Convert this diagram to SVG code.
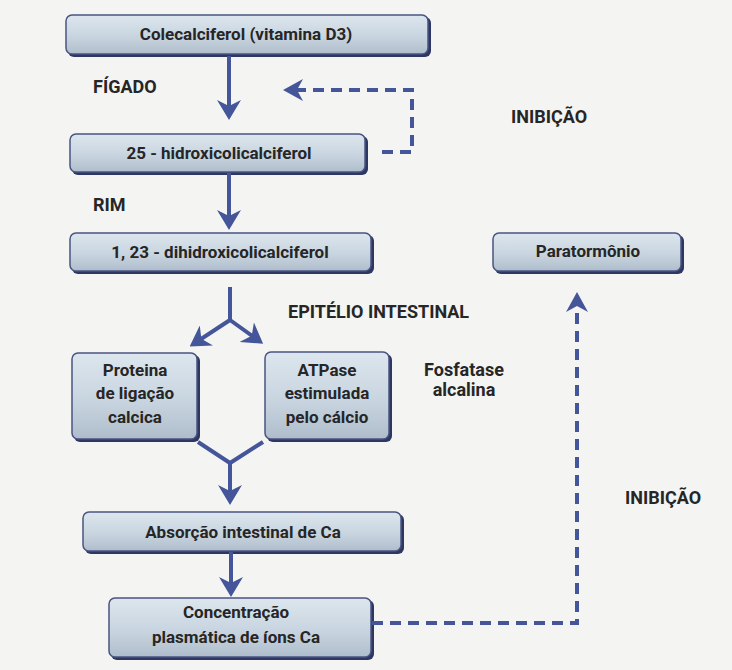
<svg xmlns="http://www.w3.org/2000/svg" width="732" height="670" viewBox="0 0 732 670">
<defs>
<linearGradient id="boxg" x1="0" y1="0" x2="0" y2="1">
<stop offset="0" stop-color="#dde6ee"/>
<stop offset="0.6" stop-color="#c6d3de"/>
<stop offset="1" stop-color="#afbccb"/>
</linearGradient>
<marker id="ah" markerUnits="userSpaceOnUse" viewBox="0 0 20 24" refX="10" refY="12" markerWidth="20" markerHeight="24" orient="auto">
<path d="M0,0 L20,12 L0,24 L6,12 z" fill="#45559a"/>
</marker>
<marker id="ahd" markerUnits="userSpaceOnUse" viewBox="0 0 20 22" refX="10" refY="11" markerWidth="20" markerHeight="22" orient="auto">
<path d="M0,0 L20,11 L0,22 L6,11 z" fill="#45559a"/>
</marker>
<style>
.sh{fill:#2e3762;}
.bx{fill:url(#boxg);stroke:#4a5482;stroke-width:1.5;}
.t{font-family:Roboto,"Open Sans","Liberation Sans",sans-serif;font-weight:700;font-size:17px;fill:#262626;text-anchor:middle;}
.lb{font-family:Roboto,"Open Sans","Liberation Sans",sans-serif;font-weight:700;font-size:18px;fill:#262626;}
.ln{fill:none;stroke:#45559a;stroke-width:4;}
.dl{fill:none;stroke:#45559a;stroke-width:4;stroke-dasharray:11 7;}
</style>
</defs>
<rect x="0" y="0" width="732" height="670" fill="#f4f4f2"/>

<g id="n-colecalciferol">
<rect class="sh" x="68" y="17" width="363" height="40" rx="6"/>
<rect class="bx" x="66" y="15" width="362" height="39" rx="6"/>
<text class="t" x="246" y="40">Colecalciferol (vitamina D3)</text>
</g>
<g id="n-25hidroxi">
<rect class="sh" x="72" y="136" width="296" height="39" rx="6"/>
<rect class="bx" x="70" y="134" width="295" height="38" rx="6"/>
<text class="t" x="219" y="159">25 - hidroxicolicalciferol</text>
</g>
<g id="n-dihidroxi">
<rect class="sh" x="72" y="235" width="302" height="39" rx="6"/>
<rect class="bx" x="70" y="233" width="301" height="38" rx="6"/>
<text class="t" x="220" y="258">1, 23 - dihidroxicolicalciferol</text>
</g>
<g id="n-paratormonio">
<rect class="sh" x="495" y="235" width="189" height="39" rx="6"/>
<rect class="bx" x="493" y="233" width="188" height="38" rx="6"/>
<text class="t" x="588" y="257">Paratormônio</text>
</g>
<g id="n-proteina">
<rect class="sh" x="74" y="355" width="126" height="87" rx="6"/>
<rect class="bx" x="72" y="353" width="125" height="86" rx="6"/>
<text class="t" x="135" y="376">Proteina</text>
<text class="t" x="135" y="399">de ligação</text>
<text class="t" x="135" y="423">calcica</text>
</g>
<g id="n-atpase">
<rect class="sh" x="267" y="354" width="125" height="88" rx="6"/>
<rect class="bx" x="265" y="352" width="124" height="87" rx="6"/>
<text class="t" x="327" y="376">ATPase</text>
<text class="t" x="327" y="399">estimulada</text>
<text class="t" x="327" y="423">pelo cálcio</text>
</g>
<g id="n-absorcao">
<rect class="sh" x="85" y="514" width="319" height="40" rx="6"/>
<rect class="bx" x="83" y="512" width="318" height="39" rx="6"/>
<text class="t" x="243" y="538">Absorção intestinal de Ca</text>
</g>
<g id="n-concentracao">
<rect class="sh" x="111" y="600" width="263" height="60" rx="6"/>
<rect class="bx" x="109" y="598" width="262" height="59" rx="6"/>
<text class="t" x="236" y="618">Concentração</text>
<text class="t" x="236" y="643">plasmática de íons Ca</text>
</g>

<g id="labels">
<text class="lb" x="93" y="93">FÍGADO</text>
<text class="lb" x="93" y="211">RIM</text>
<text class="lb" x="511" y="123">INIBIÇÃO</text>
<text class="lb" x="288" y="318">EPITÉLIO INTESTINAL</text>
<text class="lb" x="464" y="376" text-anchor="middle">Fosfatase</text>
<text class="lb" x="464" y="396" text-anchor="middle">alcalina</text>
<text class="lb" x="625" y="504">INIBIÇÃO</text>
</g>

<g id="connectors">
<line class="ln" x1="229" y1="56" x2="229" y2="110" marker-end="url(#ah)"/>
<line class="ln" x1="229" y1="173" x2="229" y2="220" marker-end="url(#ah)"/>
<line class="ln" x1="230" y1="287" x2="230" y2="321"/>
<line class="ln" x1="230" y1="320" x2="198" y2="341" marker-end="url(#ah)"/>
<line class="ln" x1="230" y1="320" x2="255" y2="338" marker-end="url(#ah)"/>
<polyline class="ln" points="198,442 230,463 263,442"/>
<line class="ln" x1="230" y1="462" x2="230" y2="495" marker-end="url(#ah)"/>
<line class="ln" x1="231" y1="552" x2="231" y2="587" marker-end="url(#ah)"/>
<path class="dl" d="M382,152 H412 V90 H293" marker-end="url(#ahd)"/>
<path class="dl" d="M372,623 H577 V302" marker-end="url(#ahd)"/>
</g>
</svg>
